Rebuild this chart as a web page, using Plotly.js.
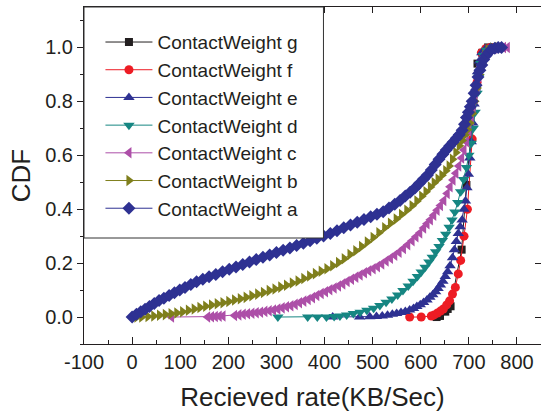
<!DOCTYPE html>
<html>
<head>
<meta charset="utf-8">
<script src="https://cdn.plot.ly/plotly-3.0.1.min.js"></script>
<style>html,body{margin:0;padding:0;background:#fff;}#chart{width:541px;height:419px;}</style>
</head>
<body>
<div id="chart"></div>
<script>
// Series names (legend order)
const seriesNames = ["ContactWeight g","ContactWeight f","ContactWeight e","ContactWeight d","ContactWeight c","ContactWeight b","ContactWeight a"];

// ContactWeight g (black squares)
const gX = [633, 640, 651, 656, 662, 685, 695, 718, 728, 740, 750];
const gY = [0.0, 0.004, 0.02, 0.03, 0.04, 0.25, 0.49, 0.94, 0.98, 1.0, 1.0];

// ContactWeight f (red circles)
const fX = [577, 601, 622, 628, 635, 641, 647, 654, 660, 666, 672, 678, 683, 690, 697, 707, 717, 726, 735, 745];
const fY = [0.0, 0.0, 0.004, 0.008, 0.015, 0.022, 0.03, 0.045, 0.06, 0.085, 0.11, 0.16, 0.21, 0.30, 0.40, 0.66, 0.87, 0.98, 0.995, 1.0];

// ContactWeight e (navy up triangles)
const eX = [417, 473, 494, 508, 520, 531, 541, 550, 559, 568, 577, 585, 592, 599, 606, 613, 619, 625, 631, 636, 641, 646, 651, 656, 661, 666, 670, 674, 678, 682, 686, 690, 693, 696, 699, 702, 705, 708, 711, 714, 718, 722, 727, 735, 745, 760];
const eY = [0.0, 0.0, 0.001, 0.002, 0.004, 0.007, 0.010, 0.013, 0.017, 0.021, 0.026, 0.032, 0.039, 0.046, 0.054, 0.063, 0.073, 0.083, 0.094, 0.106, 0.119, 0.133, 0.150, 0.168, 0.19, 0.22, 0.25, 0.28, 0.31, 0.335, 0.36, 0.40, 0.43, 0.48, 0.53, 0.59, 0.65, 0.72, 0.79, 0.85, 0.91, 0.95, 0.98, 0.995, 1.0, 1.0];

// ContactWeight d (teal down triangles)
const dX = [303, 365, 385, 404, 420, 432, 446, 460, 474, 488, 502, 515, 528, 540, 552, 563, 574, 584, 593, 601, 609, 617, 624, 631, 638, 645, 652, 659, 665, 671, 677, 683, 689, 695, 700, 705, 709, 713, 717, 721, 725, 730, 737, 747, 760];
const dY = [0.0, 0.0, 0.0, 0.0, 0.002, 0.004, 0.008, 0.013, 0.018, 0.025, 0.033, 0.043, 0.055, 0.067, 0.082, 0.098, 0.115, 0.133, 0.150, 0.167, 0.185, 0.204, 0.222, 0.242, 0.262, 0.284, 0.307, 0.333, 0.36, 0.39, 0.425, 0.465, 0.51, 0.555, 0.60, 0.645, 0.70, 0.76, 0.83, 0.89, 0.94, 0.97, 0.99, 0.998, 1.0];

// ContactWeight c (magenta left triangles)
const cX = [82, 157, 165, 173, 181, 189, 213, 222, 231, 240, 249, 258, 267, 276, 285, 294, 303, 312, 321, 330, 339, 348, 357, 366, 375, 384, 393, 402, 411, 420, 429, 438, 447, 456, 465, 474, 483, 492, 501, 510, 519, 528, 537, 546, 555, 564, 573, 582, 590, 598, 606, 613, 620, 627, 634, 641, 648, 655, 661, 667, 673, 679, 685, 690, 695, 700, 705, 709, 713, 717, 721, 725, 730, 736, 743, 752, 762, 772, 780];
const cY = [0.0, 0.0, 0.001, 0.002, 0.003, 0.004, 0.006, 0.008, 0.010, 0.012, 0.014, 0.016, 0.018, 0.021, 0.023, 0.026, 0.030, 0.034, 0.038, 0.042, 0.047, 0.053, 0.059, 0.065, 0.072, 0.080, 0.087, 0.094, 0.101, 0.108, 0.115, 0.123, 0.132, 0.140, 0.148, 0.156, 0.164, 0.172, 0.179, 0.187, 0.197, 0.208, 0.218, 0.229, 0.240, 0.254, 0.268, 0.283, 0.298, 0.312, 0.330, 0.346, 0.361, 0.378, 0.396, 0.414, 0.432, 0.458, 0.483, 0.508, 0.533, 0.560, 0.59, 0.62, 0.65, 0.69, 0.73, 0.77, 0.81, 0.85, 0.89, 0.93, 0.96, 0.98, 0.99, 0.996, 0.999, 1.0, 1.0];

// ContactWeight b (olive right triangles)
const bX = [10, 20, 33, 45, 57, 69, 81, 93, 105, 117, 129, 141, 153, 165, 177, 189, 201, 213, 225, 237, 249, 261, 273, 285, 297, 309, 321, 333, 345, 357, 369, 381, 393, 405, 417, 429, 441, 453, 465, 477, 489, 501, 513, 525, 537, 549, 560, 571, 582, 592, 602, 611, 620, 628, 636, 644, 652, 659, 666, 673, 680, 686, 692, 697, 702, 707, 712, 717, 722, 727, 733, 740, 750, 760];
const bY = [0.0, 0.0, 0.002, 0.004, 0.007, 0.009, 0.012, 0.015, 0.020, 0.025, 0.030, 0.035, 0.040, 0.045, 0.049, 0.053, 0.058, 0.063, 0.068, 0.073, 0.079, 0.085, 0.091, 0.098, 0.104, 0.111, 0.118, 0.126, 0.134, 0.143, 0.152, 0.161, 0.170, 0.179, 0.190, 0.202, 0.216, 0.232, 0.246, 0.262, 0.278, 0.295, 0.313, 0.331, 0.348, 0.364, 0.380, 0.396, 0.413, 0.430, 0.448, 0.465, 0.482, 0.498, 0.512, 0.526, 0.543, 0.560, 0.585, 0.610, 0.635, 0.655, 0.675, 0.695, 0.72, 0.755, 0.80, 0.85, 0.90, 0.94, 0.97, 0.99, 0.998, 1.0];

// ContactWeight a (navy diamonds)
const aX = [0, 9, 18, 27, 36, 46, 56, 66, 77, 88, 99, 110, 122, 134, 147, 160, 174, 188, 202, 216, 230, 244, 258, 272, 286, 300, 314, 328, 342, 356, 370, 384, 398, 412, 426, 440, 454, 468, 482, 496, 509, 522, 534, 546, 557, 568, 578, 588, 597, 606, 614, 622, 630, 638, 646, 653, 660, 667, 674, 680, 686, 691, 695, 699, 703, 707, 711, 715, 719, 723, 727, 731, 736, 741, 747, 754, 761, 768];
const aY = [0.0, 0.010, 0.020, 0.029, 0.039, 0.050, 0.061, 0.070, 0.080, 0.090, 0.100, 0.110, 0.121, 0.131, 0.140, 0.149, 0.158, 0.168, 0.177, 0.186, 0.195, 0.204, 0.213, 0.222, 0.230, 0.239, 0.248, 0.256, 0.265, 0.274, 0.283, 0.292, 0.301, 0.310, 0.320, 0.331, 0.341, 0.352, 0.362, 0.372, 0.381, 0.391, 0.404, 0.418, 0.432, 0.449, 0.463, 0.479, 0.495, 0.512, 0.527, 0.545, 0.566, 0.585, 0.604, 0.62, 0.634, 0.648, 0.663, 0.676, 0.693, 0.715, 0.74, 0.76, 0.78, 0.80, 0.83, 0.86, 0.89, 0.915, 0.935, 0.955, 0.97, 0.982, 0.992, 0.997, 1.0, 1.0];

// X / Y tick values and labels
const xTicks = [-100, 0, 100, 200, 300, 400, 500, 600, 700, 800];
const xTickText = ["-100", "0", "100", "200", "300", "400", "500", "600", "700", "800"];
const yTicks = [0.0, 0.2, 0.4, 0.6, 0.8, 1.0];
const yTickText = ["0.0", "0.2", "0.4", "0.6", "0.8", "1.0"];

const colors = ["#231F20", "#ED1C24", "#2E3192", "#168682", "#AD4FA8", "#7F7F1C", "#2E3192"];
const symbols = ["square", "circle", "triangle-up", "triangle-down", "triangle-left", "triangle-right", "diamond"];
const sizes = [8, 9, 10, 10, 10, 10, 10];
const xs = [gX, fX, eX, dX, cX, bX, aX];
const ys = [gY, fY, eY, dY, cY, bY, aY];

const traces = seriesNames.map((name, i) => ({
  type: "scatter", mode: "lines+markers", name: name,
  x: xs[i], y: ys[i],
  line: {color: colors[i], width: 1},
  marker: {symbol: symbols[i], size: sizes[i], color: colors[i], line: {width: 0}}
}));

const FONT = "Liberation Sans, Arial, sans-serif";
const TXT = "#231F20";
const xr = [-100, 850], yr = [-0.1, 1.15];

const layout = {
  width: 541, height: 419,
  margin: {l: 84, r: 0, t: 7, b: 75, pad: 0},
  paper_bgcolor: "#fff", plot_bgcolor: "#fff",
  font: {family: FONT, color: TXT, size: 20},
  showlegend: true,
  legend: {
    x: 0.036, y: 0.952, xanchor: "left", yanchor: "top",
    bgcolor: "rgba(0,0,0,0)", borderwidth: 0,
    font: {family: FONT, size: 19, color: TXT},
    itemwidth: 47, tracegroupgap: 0
  },
  xaxis: {
    range: xr, tickvals: xTicks, ticktext: xTickText, ticks: "inside", ticklen: 7, tickwidth: 1, tickcolor: "#231F20",
    minor: {dtick: 50, tick0: 0, ticks: "inside", ticklen: 4, tickcolor: "#231F20"},
    showline: true, linecolor: "#231F20", linewidth: 1, mirror: false,
    showgrid: false, zeroline: false,
    tickfont: {family: FONT, size: 20, color: TXT},
    title: {text: "Recieved rate(KB/Sec)", font: {family: FONT, size: 26, color: TXT}, standoff: 15}
  },
  yaxis: {
    range: yr, tickvals: yTicks, ticktext: yTickText, ticks: "outside", ticklen: 6, tickwidth: 1, tickcolor: "#231F20",
    minor: {dtick: 0.1, tick0: 0, ticks: "outside", ticklen: 3, tickcolor: "#231F20"},
    showline: true, linecolor: "#231F20", linewidth: 1, mirror: false,
    showgrid: false, zeroline: false,
    tickfont: {family: FONT, size: 20, color: TXT},
    title: {text: "CDF", font: {family: FONT, size: 26, color: TXT}, standoff: 7}
  },
  xaxis2: {
    overlaying: "x", side: "top", range: xr, tickvals: xTicks.slice(1), ticks: "inside", ticklen: 6,
    tickcolor: "#231F20", showticklabels: false, showline: true, linecolor: "#231F20", linewidth: 1,
    showgrid: false, zeroline: false
  },
  yaxis2: {
    overlaying: "y", side: "right", range: yr, tickvals: yTicks, ticks: "inside", ticklen: 6,
    tickcolor: "#231F20", showticklabels: false, showline: false,
    showgrid: false, zeroline: false
  },
  shapes: [{
    type: "rect", xref: "paper", yref: "paper", layer: "above",
    x0: 0, x1: 0.524, y0: 0.3145, y1: 1,
    fillcolor: "#ffffff", line: {color: "#333333", width: 1}
  }]
};

// invisible helper trace so the mirror axes are drawn
traces.push({type: "scatter", x: [xr[0]], y: [yr[0]], xaxis: "x2", yaxis: "y2", mode: "markers",
  marker: {opacity: 0}, showlegend: false, hoverinfo: "skip"});

Plotly.newPlot("chart", traces, layout, {staticPlot: true, displayModeBar: false});
</script>
</body>
</html>
